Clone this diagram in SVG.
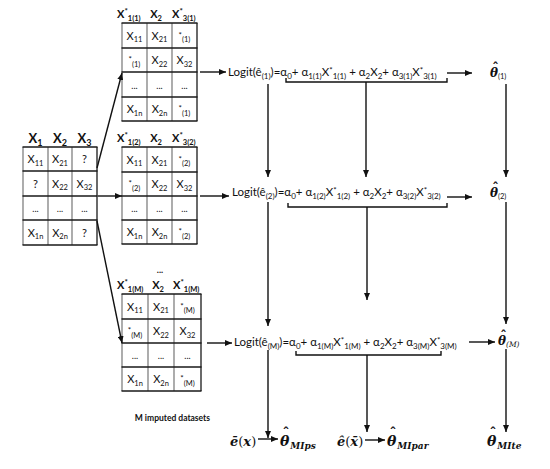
<svg xmlns="http://www.w3.org/2000/svg" width="550" height="469" viewBox="0 0 550 469">
<style>
.c{font-family:Lato,'Liberation Sans',sans-serif;font-size:11px;fill:#111;text-anchor:middle}
.f{font-family:Lato,'Liberation Sans',sans-serif;font-size:11px;fill:#111}
.q{font-family:Lato,'Liberation Sans',sans-serif;font-size:11.5px;fill:#111}
.sb{font-size:7.5px}
.q .sb{font-size:8px}
.sp{font-size:8px}
.b{font-weight:bold}
.hl{stroke:#1a1a1a;stroke-width:1.3;fill:none}
.vl{stroke:#808080;stroke-width:1.3;fill:none}
.m{font-family:'DejaVu Serif',serif;font-weight:bold;font-style:italic;fill:#111}
.hat{font-family:'DejaVu Sans',sans-serif;font-style:normal;font-weight:bold;text-anchor:middle}
.ln{stroke:#111;stroke-width:1.4;fill:none}
.ar{stroke:#111;stroke-width:1.4;fill:none;marker-end:url(#ah)}
</style>
<defs>
<marker id="ah" markerWidth="8" markerHeight="6" refX="7" refY="3" orient="auto" markerUnits="userSpaceOnUse">
<path d="M0,0 L7,3 L0,6 z" fill="#111"/>
</marker>
</defs>
<rect width="550" height="469" fill="#fff"/>

<!-- Original table -->
<g id="table-original">
<text class="c b" style="font-size:13px" x="35.5" y="143">X<tspan class="sb" style="font-size:9px" dy="2.5">1</tspan></text>
<text class="c b" style="font-size:13px" x="60" y="143">X<tspan class="sb" style="font-size:9px" dy="2.5">2</tspan></text>
<text class="c b" style="font-size:13px" x="84.5" y="143">X<tspan class="sb" style="font-size:9px" dy="2.5">3</tspan></text>
<line class="vl" x1="23" y1="147" x2="23" y2="245"/>
<line class="vl" x1="48" y1="147" x2="48" y2="245"/>
<line class="vl" x1="72" y1="147" x2="72" y2="245"/>
<line class="hl" x1="97" y1="147" x2="97" y2="245"/>
<path class="hl" d="M22.5,147H97.5M22.5,171H97.5M22.5,196H97.5M22.5,220H97.5M22.5,245H97.5"/>
<text class="c" x="35.5" y="163">X<tspan class="sb" dy="2.5">11</tspan></text>
<text class="c" x="60" y="163">X<tspan class="sb" dy="2.5">21</tspan></text>
<text class="c" x="84.5" y="163">?</text>
<text class="c" x="35.5" y="187.5">?</text>
<text class="c" x="60" y="187.5">X<tspan class="sb" dy="2.5">22</tspan></text>
<text class="c" x="84.5" y="187.5">X<tspan class="sb" dy="2.5">32</tspan></text>
<text class="c" style="font-size:9px" x="35.5" y="212">...</text>
<text class="c" style="font-size:9px" x="60" y="212">...</text>
<text class="c" style="font-size:9px" x="84.5" y="212">...</text>
<text class="c" x="35.5" y="236.5">X<tspan class="sb" dy="2.5">1n</tspan></text>
<text class="c" x="60" y="236.5">X<tspan class="sb" dy="2.5">2n</tspan></text>
<text class="c" x="84.5" y="236.5">?</text>
</g>

<!-- Imputed table 1 -->
<g id="table-imp-1">
<text class="f b" x="117" y="18">X<tspan class="sp" dy="-4">*</tspan><tspan class="sb" dy="6.5">1(1)</tspan></text>
<text class="c b" x="156" y="18">X<tspan class="sb" dy="2.5">2</tspan></text>
<text class="f b" x="172" y="18">X<tspan class="sp" dy="-4">*</tspan><tspan class="sb" dy="6.5">3(1)</tspan></text>
<line class="vl" x1="122" y1="23" x2="122" y2="121"/>
<line class="vl" x1="147" y1="23" x2="147" y2="121"/>
<line class="vl" x1="172" y1="23" x2="172" y2="121"/>
<line class="hl" x1="197" y1="23" x2="197" y2="121"/>
<path class="hl" d="M121.5,23H197.5M121.5,48H197.5M121.5,72H197.5M121.5,97H197.5M121.5,121H197.5"/>
<text class="c" x="134.5" y="39.5">X<tspan class="sb" dy="2.5">11</tspan></text>
<text class="c" x="159.5" y="39.5">X<tspan class="sb" dy="2.5">21</tspan></text>
<text class="c" x="184.5" y="39.5"><tspan class="sp" dy="-2">*</tspan><tspan class="sb" dy="4.5">(1)</tspan></text>
<text class="c" x="134.5" y="64"><tspan class="sp" dy="-2">*</tspan><tspan class="sb" dy="4.5">(1)</tspan></text>
<text class="c" x="159.5" y="64">X<tspan class="sb" dy="2.5">22</tspan></text>
<text class="c" x="184.5" y="64">X<tspan class="sb" dy="2.5">32</tspan></text>
<text class="c" style="font-size:9px" x="134.5" y="88.5">...</text>
<text class="c" style="font-size:9px" x="159.5" y="88.5">...</text>
<text class="c" style="font-size:9px" x="184.5" y="88.5">...</text>
<text class="c" x="134.5" y="113">X<tspan class="sb" dy="2.5">1n</tspan></text>
<text class="c" x="159.5" y="113">X<tspan class="sb" dy="2.5">2n</tspan></text>
<text class="c" x="184.5" y="113"><tspan class="sp" dy="-2">*</tspan><tspan class="sb" dy="4.5">(1)</tspan></text>
</g>

<!-- Imputed table 2 -->
<g id="table-imp-2">
<text class="f b" x="117" y="142">X<tspan class="sp" dy="-4">*</tspan><tspan class="sb" dy="6.5">1(2)</tspan></text>
<text class="c b" x="156" y="142">X<tspan class="sb" dy="2.5">2</tspan></text>
<text class="f b" x="172" y="142">X<tspan class="sp" dy="-4">*</tspan><tspan class="sb" dy="6.5">3(2)</tspan></text>
<line class="vl" x1="122" y1="147" x2="122" y2="244"/>
<line class="vl" x1="147" y1="147" x2="147" y2="244"/>
<line class="vl" x1="172" y1="147" x2="172" y2="244"/>
<line class="hl" x1="197" y1="147" x2="197" y2="244"/>
<path class="hl" d="M121.5,147H197.5M121.5,172H197.5M121.5,196H197.5M121.5,220H197.5M121.5,244H197.5"/>
<text class="c" x="134.5" y="163.5">X<tspan class="sb" dy="2.5">11</tspan></text>
<text class="c" x="159.5" y="163.5">X<tspan class="sb" dy="2.5">21</tspan></text>
<text class="c" x="184.5" y="163.5"><tspan class="sp" dy="-2">*</tspan><tspan class="sb" dy="4.5">(2)</tspan></text>
<text class="c" x="134.5" y="188"><tspan class="sp" dy="-2">*</tspan><tspan class="sb" dy="4.5">(2)</tspan></text>
<text class="c" x="159.5" y="188">X<tspan class="sb" dy="2.5">22</tspan></text>
<text class="c" x="184.5" y="188">X<tspan class="sb" dy="2.5">32</tspan></text>
<text class="c" style="font-size:9px" x="134.5" y="212">...</text>
<text class="c" style="font-size:9px" x="159.5" y="212">...</text>
<text class="c" style="font-size:9px" x="184.5" y="212">...</text>
<text class="c" x="134.5" y="236">X<tspan class="sb" dy="2.5">1n</tspan></text>
<text class="c" x="159.5" y="236">X<tspan class="sb" dy="2.5">2n</tspan></text>
<text class="c" x="184.5" y="236"><tspan class="sp" dy="-2">*</tspan><tspan class="sb" dy="4.5">(2)</tspan></text>
</g>

<g id="dots-between">
<text class="c b" style="font-size:9px" x="160" y="273">...</text>
</g>

<!-- Imputed table M -->
<g id="table-imp-M">
<text class="f b" x="117" y="289">X<tspan class="sp" dy="-4">*</tspan><tspan class="sb" dy="6.5">1(M)</tspan></text>
<text class="c b" x="158" y="289">X<tspan class="sb" dy="2.5">2</tspan></text>
<text class="f b" x="173" y="289">X<tspan class="sp" dy="-4">*</tspan><tspan class="sb" dy="6.5">1(M)</tspan></text>
<line class="vl" x1="122" y1="294" x2="122" y2="391"/>
<line class="vl" x1="148" y1="294" x2="148" y2="391"/>
<line class="vl" x1="174" y1="294" x2="174" y2="391"/>
<line class="hl" x1="201" y1="294" x2="201" y2="391"/>
<path class="hl" d="M121.5,294H201.5M121.5,319H201.5M121.5,343H201.5M121.5,367H201.5M121.5,391H201.5"/>
<text class="c" x="135" y="310.5">X<tspan class="sb" dy="2.5">11</tspan></text>
<text class="c" x="161" y="310.5">X<tspan class="sb" dy="2.5">21</tspan></text>
<text class="c" x="187.5" y="310.5"><tspan class="sp" dy="-2">*</tspan><tspan class="sb" dy="4.5">(M)</tspan></text>
<text class="c" x="135" y="335"><tspan class="sp" dy="-2">*</tspan><tspan class="sb" dy="4.5">(M)</tspan></text>
<text class="c" x="161" y="335">X<tspan class="sb" dy="2.5">22</tspan></text>
<text class="c" x="187.5" y="335">X<tspan class="sb" dy="2.5">32</tspan></text>
<text class="c" style="font-size:9px" x="135" y="359">...</text>
<text class="c" style="font-size:9px" x="161" y="359">...</text>
<text class="c" style="font-size:9px" x="187.5" y="359">...</text>
<text class="c" x="135" y="383">X<tspan class="sb" dy="2.5">1n</tspan></text>
<text class="c" x="161" y="383">X<tspan class="sb" dy="2.5">2n</tspan></text>
<text class="c" x="187.5" y="383"><tspan class="sp" dy="-2">*</tspan><tspan class="sb" dy="4.5">(M)</tspan></text>
</g>

<g id="label-imputed">
<text class="f b" style="font-size:8.5px;text-anchor:end" x="210" y="421">M imputed datasets</text>
</g>

<!-- Equations -->
<g id="eq-1">
<text class="q" x="228" y="76">Logit(ê<tspan class="sb" dy="2.5">(1)</tspan><tspan dy="-2.5">)=α</tspan><tspan class="sb" dy="2.5">0</tspan><tspan dy="-2.5">+ α</tspan><tspan class="sb" dy="2.5">1(1)</tspan><tspan dy="-2.5">X</tspan><tspan class="sp" dy="-3.5">*</tspan><tspan class="sb" dy="6">1(1)</tspan><tspan dy="-2.5"> + α</tspan><tspan class="sb" dy="2.5">2</tspan><tspan dy="-2.5">X</tspan><tspan class="sb" dy="2.5">2</tspan><tspan dy="-2.5">+ α</tspan><tspan class="sb" dy="2.5">3(1)</tspan><tspan dy="-2.5">X</tspan><tspan class="sp" dy="-3.5">*</tspan><tspan class="sb" dy="6">3(1)</tspan></text>
<path class="ln" d="M286,78V82H447V78"/>
</g>
<g id="eq-2">
<text class="q" x="232" y="196">Logit(ê<tspan class="sb" dy="2.5">(2)</tspan><tspan dy="-2.5">)=α</tspan><tspan class="sb" dy="2.5">0</tspan><tspan dy="-2.5">+ α</tspan><tspan class="sb" dy="2.5">1(2)</tspan><tspan dy="-2.5">X</tspan><tspan class="sp" dy="-3.5">*</tspan><tspan class="sb" dy="6">1(2)</tspan><tspan dy="-2.5"> + α</tspan><tspan class="sb" dy="2.5">2</tspan><tspan dy="-2.5">X</tspan><tspan class="sb" dy="2.5">2</tspan><tspan dy="-2.5">+ α</tspan><tspan class="sb" dy="2.5">3(2)</tspan><tspan dy="-2.5">X</tspan><tspan class="sp" dy="-3.5">*</tspan><tspan class="sb" dy="6">3(2)</tspan></text>
<path class="ln" d="M288,203V207H447V203"/>
</g>
<g id="eq-M">
<text class="q" x="234" y="346">Logit(ê<tspan class="sb" dy="2.5">(M)</tspan><tspan dy="-2.5">)=α</tspan><tspan class="sb" dy="2.5">0</tspan><tspan dy="-2.5">+ α</tspan><tspan class="sb" dy="2.5">1(M)</tspan><tspan dy="-2.5">X</tspan><tspan class="sp" dy="-3.5">*</tspan><tspan class="sb" dy="6">1(M)</tspan><tspan dy="-2.5"> + α</tspan><tspan class="sb" dy="2.5">2</tspan><tspan dy="-2.5">X</tspan><tspan class="sb" dy="2.5">2</tspan><tspan dy="-2.5">+ α</tspan><tspan class="sb" dy="2.5">3(M)</tspan><tspan dy="-2.5">X</tspan><tspan class="sp" dy="-3.5">*</tspan><tspan class="sb" dy="6">3(M)</tspan></text>
<path class="ln" d="M296,351V355H441V351"/>
</g>

<!-- Theta estimates -->
<g id="theta-1">
<text class="m" style="font-size:12px" x="490" y="77">θ<tspan class="f" style="font-size:7.5px;font-weight:normal;font-style:normal" dy="2">(1)</tspan><tspan class="hat" style="font-size:13px" x="495.5" y="71.5">ˆ</tspan></text>
</g>
<g id="theta-2">
<text class="m" style="font-size:12px" x="490" y="197">θ<tspan class="f" style="font-size:7.5px;font-weight:normal;font-style:normal" dy="2">(2)</tspan><tspan class="hat" style="font-size:13px" x="495.5" y="191.5">ˆ</tspan></text>
</g>
<g id="theta-M">
<text class="m" style="font-size:12px" x="498" y="345">θ<tspan style="font-size:7.5px;font-weight:normal" dy="2">(M)</tspan><tspan class="hat" style="font-size:13px" x="503.5" y="339.5">ˆ</tspan></text>
</g>

<!-- Final results -->
<g id="res-ps">
<text class="m" style="font-size:13px" x="230" y="446">ē<tspan style="font-weight:normal;font-style:normal">(</tspan>x<tspan style="font-weight:normal;font-style:normal">)</tspan></text>
<text class="m" style="font-size:14px" x="280" y="446">θ<tspan style="font-size:9px" dx="1" dy="3">MIps</tspan><tspan class="hat" style="font-size:14px" x="286" y="437.5">ˆ</tspan></text>
</g>
<g id="res-par">
<text class="m" style="font-size:13px" x="337" y="446">ê<tspan style="font-weight:normal;font-style:normal">(</tspan>x̄<tspan style="font-weight:normal;font-style:normal">)</tspan></text>
<text class="m" style="font-size:14px" x="387" y="446">θ<tspan style="font-size:9px" dx="1" dy="3">MIpar</tspan><tspan class="hat" style="font-size:14px" x="393" y="437.5">ˆ</tspan></text>
</g>
<g id="res-te">
<text class="m" style="font-size:14px" x="487" y="446">θ<tspan style="font-size:9px" dx="1" dy="3">MIte</tspan><tspan class="hat" style="font-size:14px" x="493" y="437.5">ˆ</tspan></text>
</g>

<!-- Connectors -->
<g id="connectors">
<line class="ar" x1="97" y1="168" x2="122" y2="73"/>
<line class="ar" x1="98" y1="196" x2="122" y2="196"/>
<line class="ar" x1="97" y1="221" x2="122" y2="343"/>
<line class="ar" x1="200" y1="72" x2="226" y2="72"/>
<line class="ar" x1="200" y1="196" x2="229" y2="196"/>
<line class="ar" x1="207" y1="343" x2="232" y2="343"/>
<line class="ar" x1="447" y1="73" x2="472" y2="73"/>
<line class="ar" x1="447" y1="197" x2="472" y2="197"/>
<line class="ar" x1="469" y1="342" x2="495" y2="342"/>
<line class="ar" x1="268" y1="84" x2="268" y2="177"/>
<line class="ar" x1="366" y1="82" x2="366" y2="177"/>
<line class="ar" x1="506" y1="84" x2="506" y2="177"/>
<line class="ar" x1="268" y1="202" x2="268" y2="326"/>
<line class="ar" x1="367" y1="207" x2="367" y2="300"/>
<line class="ar" x1="506" y1="202" x2="506" y2="324"/>
<line class="ar" x1="268" y1="350" x2="268" y2="438"/>
<line class="ar" x1="367" y1="355" x2="367" y2="432"/>
<line class="ar" x1="506" y1="349" x2="506" y2="432"/>
<line class="ar" x1="258" y1="439" x2="278" y2="439"/>
<line class="ar" x1="365" y1="440" x2="385" y2="440"/>
</g>
</svg>
